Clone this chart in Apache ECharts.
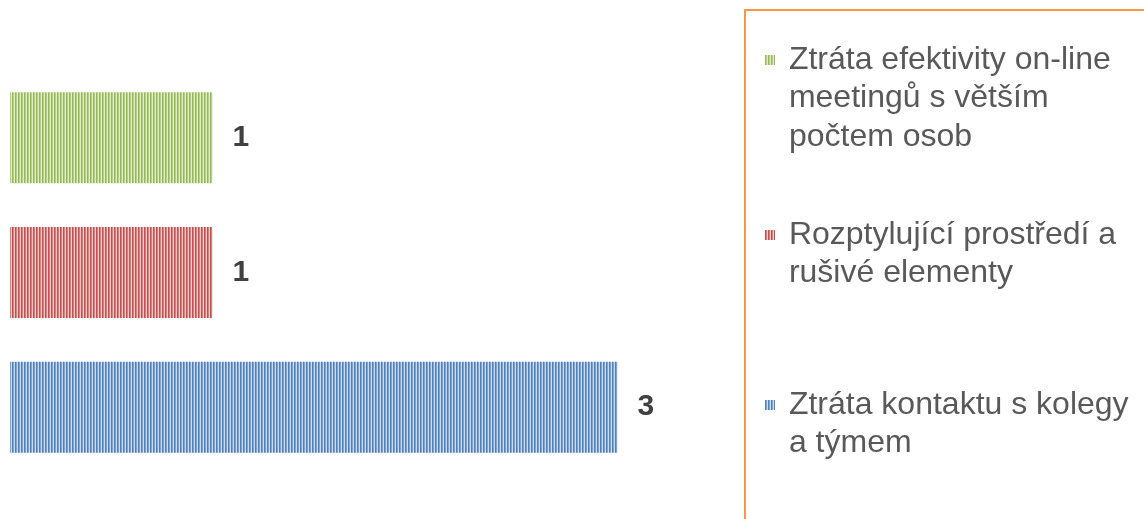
<!DOCTYPE html>
<html>
<head>
<meta charset="utf-8">
<script src="https://cdn.jsdelivr.net/npm/echarts@6/dist/echarts.min.js"></script>
<style>
  html, body { margin: 0; padding: 0; background: #fff; }
  #chart { width: 1144px; height: 519px; }
</style>
</head>
<body>
<div id="chart"></div>
<script>
  // data
  const categories = ['']
  const seriesNames = [
    'Ztráta efektivity on-line meetingů s větším počtem osob',
    'Rozptylující prostředí a rušivé elementy',
    'Ztráta kontaktu s kolegy a týmem'
  ]
  const legendLines = [
    ['Ztráta efektivity on-line', 'meetingů s větším', 'počtem osob'],
    ['Rozptylující prostředí a', 'rušivé elementy'],
    ['Ztráta kontaktu s kolegy', 'a týmem']
  ]
  const seriesValues = [[1], [1], [3]]
  const stripeColors = [
    ['#97b955', '#b6d086', '#e1ebcf'],
    ['#c0514e', '#d6817f', '#f0cdcc'],
    ['#4f80bd', '#7fa4d2', '#cddbee']
  ]

  // small striped pattern like the office bar fill
  function stripes(cols) {
    const c = document.createElement('canvas')
    c.width = 3
    c.height = 4
    const ctx = c.getContext('2d')
    cols.forEach((col, i) => {
      ctx.fillStyle = col
      ctx.fillRect(i, 0, 1, 4)
    })
    return { image: c, repeat: 'repeat' }
  }

  const chart = echarts.init(document.getElementById('chart'), null, { renderer: 'canvas' })

  const LH = 38.5
  // y of each legend icon centre
  const iconY = [60, 235, 405]

  chart.setOption({
    animation: false,
    grid: { left: 10, top: 26, bottom: 0, width: 708.75 },
    xAxis: {
      type: 'value', min: 0, max: 3.5, show: false
    },
    yAxis: {
      type: 'category', data: categories, show: false
    },
    legend: seriesNames.map((name, i) => {
      const n = legendLines[i].length
      // blank lines first so the icon sits next to the first line
      const txt = new Array(n - 1).fill('').concat(legendLines[i].map(s => ' ' + s)).join('\n')
      return {
        data: [name],
        orient: 'vertical',
        left: 765,
        top: iconY[i] - (2 * n - 1) * LH / 2,
        padding: 0,
        icon: 'rect',
        itemWidth: 10,
        itemHeight: 10,
        selectedMode: false,
        formatter: () => txt,
        textStyle: {
          fontFamily: 'Liberation Sans',
          fontSize: 32,
          color: '#595959',
          lineHeight: LH
        }
      }
    }),
    graphic: [{
      type: 'rect',
      shape: { x: 745, y: 10, width: 600, height: 600 },
      style: { fill: 'none', stroke: '#f79646', lineWidth: 2 },
      silent: true
    }],
    series: seriesNames.map((name, i) => ({
      name: name,
      type: 'bar',
      data: seriesValues[i],
      barWidth: 91,
      barGap: '48%',
      itemStyle: { color: stripes(stripeColors[i]) },
      label: {
        show: true,
        position: 'right',
        distance: 20,
        fontFamily: 'Liberation Sans',
        fontSize: 30,
        fontWeight: 'bold',
        color: '#404040'
      }
    }))
  })
</script>
</body>
</html>
